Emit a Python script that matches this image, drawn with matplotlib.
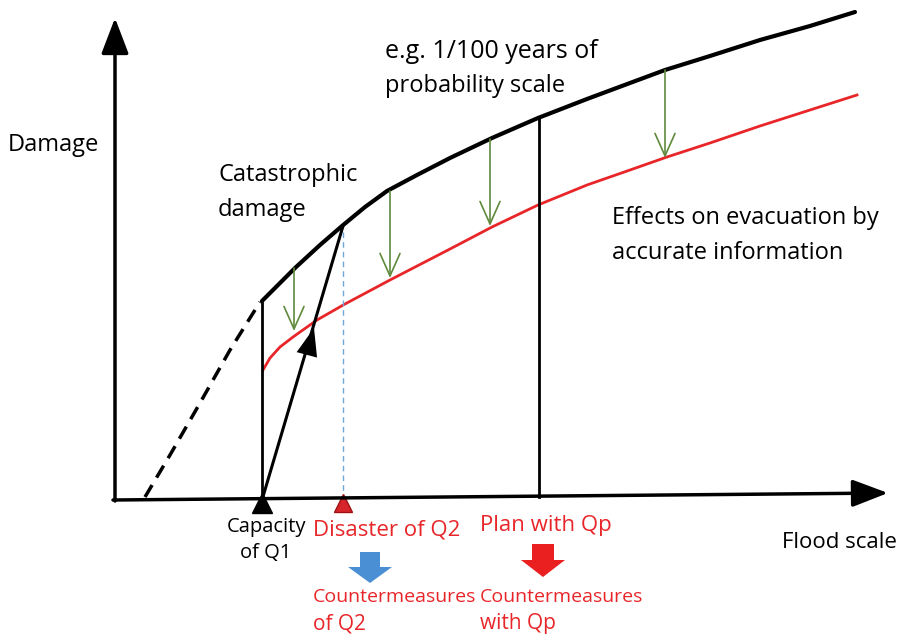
import matplotlib.pyplot as plt
from matplotlib.patches import FancyArrow

# curves in picture coordinates (x right, y down)
damage_x = [262, 280, 295, 320, 342, 365, 387, 417, 450, 492, 538, 587, 630, 665, 710, 760, 810, 855]
damage_y = [301, 283, 268, 245, 226, 207, 191, 175, 158, 138, 118, 99, 83, 70, 56, 40, 26, 12]

extrap_x = [145, 170, 200, 230, 260]
extrap_y = [497, 455, 403, 350, 302]

reduced_x = [263, 270, 280, 293, 317, 345, 390, 450, 492, 538, 587, 630, 667, 710, 760, 810, 857]
reduced_y = [370, 358, 347, 337, 320, 304, 280, 249, 227, 205, 185, 170, 157, 143, 126, 110, 95]

# green "reduction" arrows: x, top, bottom
green_x = [294, 390, 490, 665]
green_top = [268, 191, 139, 70]
green_bot = [331, 278, 226, 158]

q1_x = 262
q2_x = 343
qp_x = 539
base_y = 500

red = '#e8262a'
green = '#5f8a3c'

plt.rcParams['font.family'] = ['Open Sans', 'DejaVu Sans']

fig = plt.figure(figsize=(9.05, 6.39), dpi=100)
ax = fig.add_axes([0, 0, 1, 1])
ax.set_xlim(0, 905)
ax.set_ylim(639, 0)
ax.axis('off')

# axes arrows
axis_head = dict(arrowstyle='-|>,head_width=0.42,head_length=1.1', color='black', lw=2.5,
                 mutation_scale=20, shrinkA=0, shrinkB=0)
ax.annotate('', xy=(115, 18), xytext=(115, base_y + 1), arrowprops=axis_head)
ax.annotate('', xy=(888, 493), xytext=(113, base_y), arrowprops=axis_head)

# curves
ax.plot(damage_x, damage_y, color='black', lw=3, solid_capstyle='round', solid_joinstyle='round')
ax.plot(extrap_x, extrap_y, color='black', lw=2.5, ls=(0, (4, 2.5)))
ax.plot(reduced_x, reduced_y, color=red, lw=2, solid_joinstyle='round')

# vertical lines
ax.plot([q1_x, q1_x], [base_y, damage_y[0]], color='black', lw=2)
ax.plot([qp_x, qp_x], [base_y - 3, 118], color='black', lw=2)
ax.plot([q2_x, q2_x], [base_y, 226], color='#6fa8d8', lw=1, ls=(0, (4, 3)))

# black rising line with arrowhead
ax.plot([q1_x, 343], [base_y, 226], color='black', lw=2.2)
ax.annotate('', xy=(314, 328), xytext=(306, 358),
            arrowprops=dict(arrowstyle='-|>,head_width=0.38,head_length=1.0', color='black',
                            lw=0, mutation_scale=20, shrinkA=0, shrinkB=0))

# green arrows
for gx, gt, gb in zip(green_x, green_top, green_bot):
    ax.annotate('', xy=(gx, gb), xytext=(gx, gt),
                arrowprops=dict(arrowstyle='->,head_width=0.4,head_length=0.9', color=green,
                                lw=1.2, mutation_scale=18, shrinkA=0, shrinkB=0))

# triangles on x axis
ax.plot([q1_x], [503], marker='^', ms=15, color='black', clip_on=False)
ax.plot([q2_x], [503], marker='^', ms=13, color='#d7262b', mec='#a01010', clip_on=False)

# fat arrows
ax.add_patch(FancyArrow(370, 552, 0, 31, width=20, head_width=44, head_length=16,
                        length_includes_head=True, color='#4a8fd4', lw=0))
ax.add_patch(FancyArrow(543, 544, 0, 33, width=22, head_width=44, head_length=17,
                        length_includes_head=True, color='#e9201f', lw=0))

# labels: (x, y, text, size, colour, ha)
labels = [
    (8, 145, 'Damage', 17, 'black', 'left'),
    (385, 51, 'e.g. 1/100 years of', 18, 'black', 'left'),
    (385, 86, 'probability scale', 17, 'black', 'left'),
    (218, 175, 'Catastrophic', 17, 'black', 'left'),
    (218, 210, 'damage', 17, 'black', 'left'),
    (612, 218, 'Effects on evacuation by', 17, 'black', 'left'),
    (612, 253, 'accurate information', 17, 'black', 'left'),
    (266, 527, 'Capacity', 14.5, 'black', 'center'),
    (266, 553, 'of Q1', 14.5, 'black', 'center'),
    (313, 530, 'Disaster of Q2', 16, red, 'left'),
    (480, 525, 'Plan with Qp', 16, red, 'left'),
    (782, 543, 'Flood scale', 16, 'black', 'left'),
    (313, 597, 'Countermeasures', 14, red, 'left'),
    (313, 624, 'of Q2', 15, red, 'left'),
    (480, 597, 'Countermeasures', 14, red, 'left'),
    (480, 624, 'with Qp', 15, red, 'left'),
]
for lx, ly, txt, size, col, ha in labels:
    ax.text(lx, ly, txt, fontsize=size, color=col, ha=ha, va='center')

fig.savefig('out.png', dpi=100)
